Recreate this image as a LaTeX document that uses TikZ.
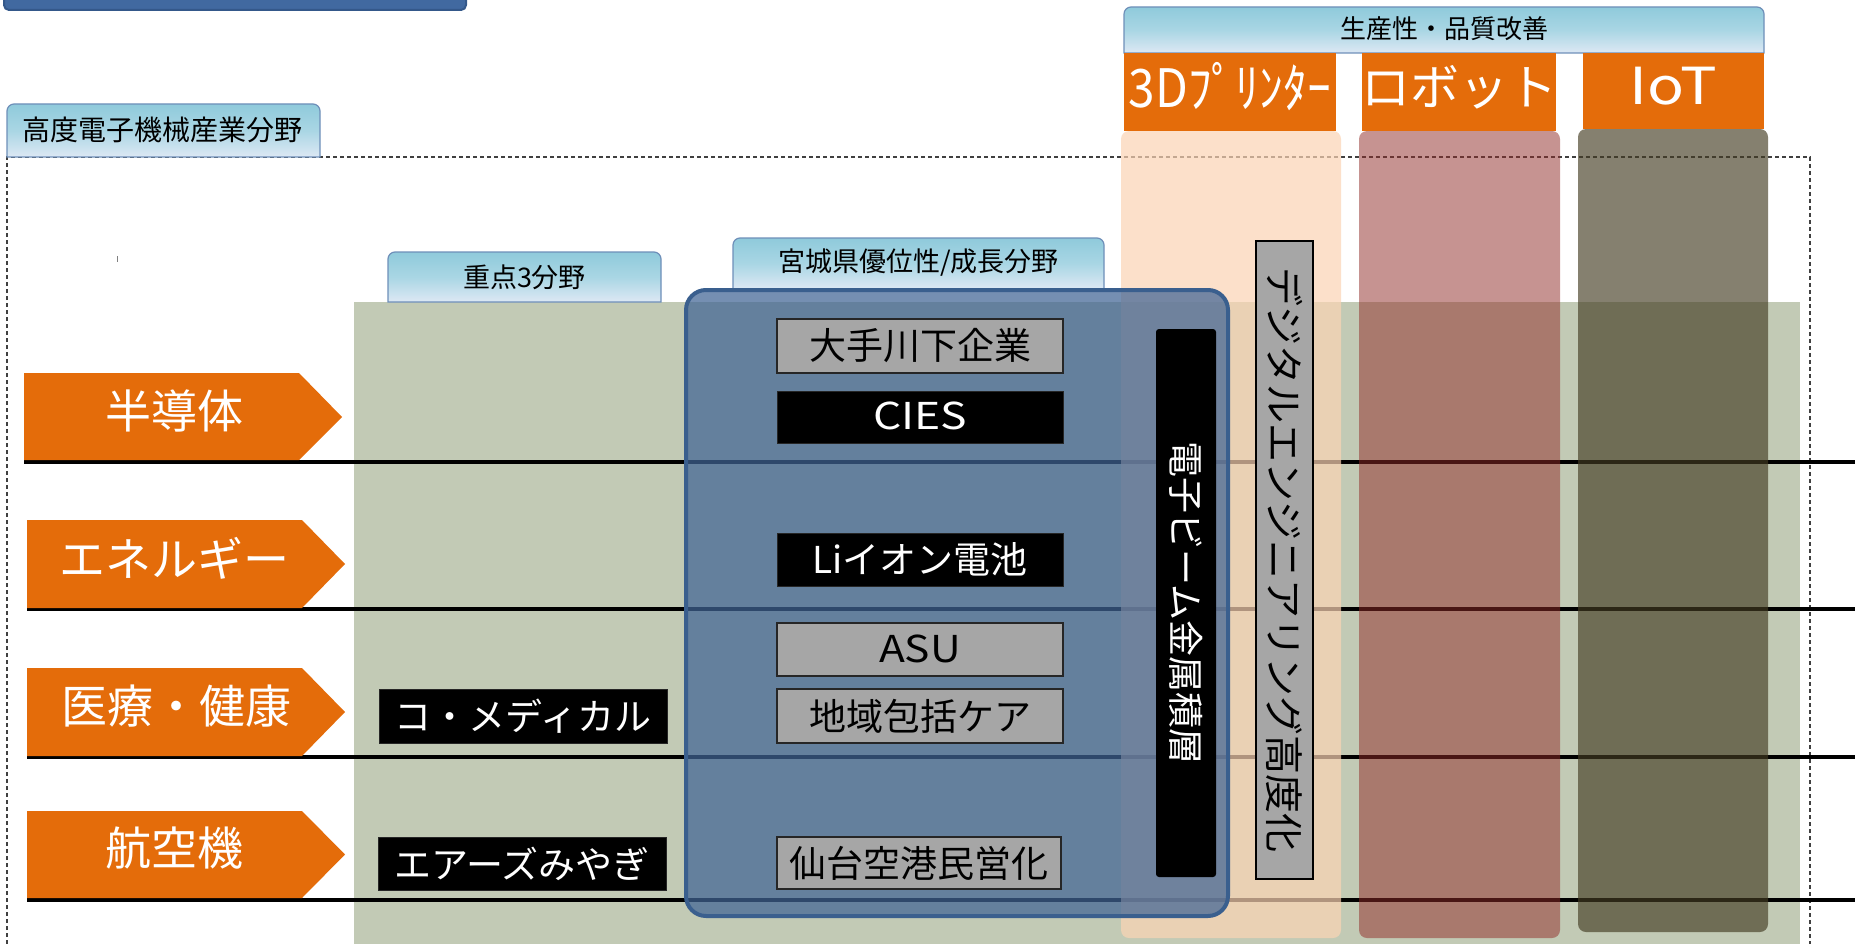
\documentclass[tikz,border=0pt]{standalone}
\usepackage{fontspec}
\setmainfont{Noto Sans CJK JP}
\newcommand\myfs[1]{\fontsize{#1}{#1}\selectfont}
\definecolor{orng}{HTML}{E46C0A}
\definecolor{grn}{HTML}{C2CAB5}
\definecolor{peach}{HTML}{FBD4B4}
\definecolor{robo}{HTML}{912D29}
\definecolor{iotc}{HTML}{443C23}
\definecolor{bluebox}{HTML}{406495}
\definecolor{blueedge}{HTML}{3A5F8E}
\definecolor{lblA}{HTML}{8FCADB}
\definecolor{lblB}{HTML}{DDE8F4}
\definecolor{lblM}{HTML}{A9D6E4}
\definecolor{lbledge}{HTML}{6E8FB9}
\definecolor{boxgray}{HTML}{A6A6A6}
\definecolor{boxedge}{HTML}{262626}
\definecolor{dashc}{HTML}{404040}
\definecolor{topbar}{HTML}{4169A0}
\definecolor{topbaredge}{HTML}{34588A}
\begin{document}
\begin{tikzpicture}[x=1pt,y=-1pt,
  lblshade/.style={top color=lblA, bottom color=lblB, middle color=lblM, draw=lbledge, line width=1.2pt},
  lbltext/.style={font=\myfs{27}, text=black, inner sep=0pt},
  hline/.style={line width=4.5pt, black},
  arrowshape/.style={fill=orng},
  arrowtext/.style={font=\myfs{46}, text=white, inner sep=0pt},
  hdr/.style={fill=orng},
  hdrtext/.style={font=\myfs{48}, text=white, inner sep=0pt},
  graybox/.style={draw=boxedge, line width=2pt, fill=boxgray, font=\myfs{37}, text=black, inner sep=0pt},
  blackbox/.style={draw=boxedge, line width=1pt, fill=black, font=\myfs{37}, text=white, inner sep=0pt},
  colbox/.style={rounded corners=8pt}
]
\useasboundingbox (0,0) rectangle (1855,944);
\clip (0,0) rectangle (1855,944);
\fill[white] (0,0) rectangle (1855,944);

% top-left bar (cut off)
\draw[fill=topbar, draw=topbaredge, line width=2pt, rounded corners=5pt] (4,-30) rectangle (466,10);

% green background
\fill[grn] (354,302) rectangle (1800,960);

% dashed frame
\draw[dashc, line width=1.3pt, dash pattern=on 4pt off 3pt] (7,1000) -- (7,157) -- (1810,157) -- (1810,1000);

% stray tick
\draw[gray, line width=1pt] (117,256) -- (117,262);

% horizontal row lines
\coordinate (l1a) at (24,462);  \coordinate (l1b) at (1855,462);
\coordinate (l2a) at (27,609);  \coordinate (l2b) at (1855,609);
\coordinate (l3a) at (27,757);  \coordinate (l3b) at (1855,757);
\coordinate (l4a) at (27,900);  \coordinate (l4b) at (1855,900);
\draw[hline] (l1a) -- (l1b);
\draw[hline] (l2a) -- (l2b);
\draw[hline] (l3a) -- (l3b);
\draw[hline] (l4a) -- (l4b);

% columns
\fill[colbox, peach, fill opacity=0.7] (1121,131) rectangle (1341,938);
\fill[colbox, robo, fill opacity=0.51] (1359,131) rectangle (1560,938);
\fill[colbox, iotc, fill opacity=0.65] (1578,129) rectangle (1768,932);

% top header
\shadedraw[lblshade] (1124,53) [rounded corners=7pt] -- (1124,7) -- (1764,7) [sharp corners] -- (1764,53) -- cycle;
\node[lbltext, font=\myfs{26}] (seisan) at (1444,29) {生産性・品質改善};
\fill[hdr] (1124,53) rectangle (1336,131);
\fill[hdr] (1362,53) rectangle (1556,131);
\fill[hdr] (1583,53) rectangle (1764,129);
\node[hdrtext, font=\myfs{53}] (p3d) at (1230,87) {\scalebox{0.9}[1]{3Dﾌﾟﾘﾝﾀｰ}};
\node[hdrtext, font=\myfs{49}] (robot) at (1459,87) {ロボット};
\node[hdrtext, font=\myfs{51}] (iot) at (1673,86) {\scalebox{1.2}[1]{IoT}};

% labels
\shadedraw[lblshade] (7,157) [rounded corners=7pt] -- (7,104) -- (320,104) [sharp corners] -- (320,157) -- cycle;
\node[lbltext, font=\myfs{28}] (koudo) at (163,130) {高度電子機械産業分野};
\shadedraw[lblshade] (388,302) [rounded corners=7pt] -- (388,252) -- (661,252) [sharp corners] -- (661,302) -- cycle;
\node[lbltext] (juten) at (524.5,277) {重点3分野};
\shadedraw[lblshade] (733,289) [rounded corners=7pt] -- (733,238) -- (1104,238) [sharp corners] -- (1104,289) -- cycle;
\node[lbltext] (miyagi) at (918.5,263) {宮城県優位性/成長分野};

% row arrows
\fill[arrowshape] (24,373) -- (299,373) -- (342,417) -- (299,460) -- (24,460) -- cycle;
\node[arrowtext] (semi) at (174,411) {半導体};
\fill[arrowshape] (27,520) -- (302,520) -- (345,564) -- (302,608) -- (27,608) -- cycle;
\node[arrowtext] (energy) at (174,558) {エネルギー};
\fill[arrowshape] (27,668) -- (302,668) -- (345,712) -- (302,756) -- (27,756) -- cycle;
\node[arrowtext] (medical) at (176,706) {医療・健康};
\fill[arrowshape] (27,811) -- (302,811) -- (345,854.5) -- (302,898) -- (27,898) -- cycle;
\node[arrowtext] (aero) at (174,848) {航空機};

% key-field boxes
\node[blackbox, minimum width=288, minimum height=54] (comed) at (523,716) {\raisebox{2pt}{コ・メディカル}};
\node[blackbox, minimum width=288, minimum height=53] (airs) at (522,863.5) {\raisebox{2pt}{エアーズみやぎ}};

% blue box
\draw[rounded corners=20pt, line width=4pt, draw=blueedge, fill=bluebox, fill opacity=0.72] (686,290) rectangle (1228,916);

% inner boxes
\node[graybox, minimum width=286, minimum height=54] (ote) at (920,346) {\raisebox{2pt}{大手川下企業}};
\node[blackbox, minimum width=286, minimum height=52] (cies) at (920,417) {\raisebox{2pt}{\scalebox{1.2}[1]{CIES}}};
\node[blackbox, minimum width=286, minimum height=53] (li) at (920,559.5) {\raisebox{2pt}{Liイオン電池}};
\node[graybox, minimum width=286, minimum height=53] (asu) at (920,649.5) {\raisebox{2pt}{\scalebox{1.15}[1]{ASU}}};
\node[graybox, minimum width=286, minimum height=54] (care) at (920,716) {\raisebox{2pt}{地域包括ケア}};
\node[graybox, minimum width=284, minimum height=52] (sendai) at (919,863) {\raisebox{2pt}{仙台空港民営化}};

% vertical boxes
\node[fill=black, rounded corners=3pt, rotate=-90, minimum width=548, minimum height=60, inner sep=0pt, text=white, font=\myfs{36}] (ebeam) at (1186,603) {電子ビーム金属積層};
\node[draw=black, line width=2.5pt, fill=boxgray, rotate=-90, minimum width=638, minimum height=57, inner sep=0pt, text=black, font=\myfs{39}] (digital) at (1284.5,560) {デジタルエンジニアリング高度化};
\end{tikzpicture}
\end{document}
